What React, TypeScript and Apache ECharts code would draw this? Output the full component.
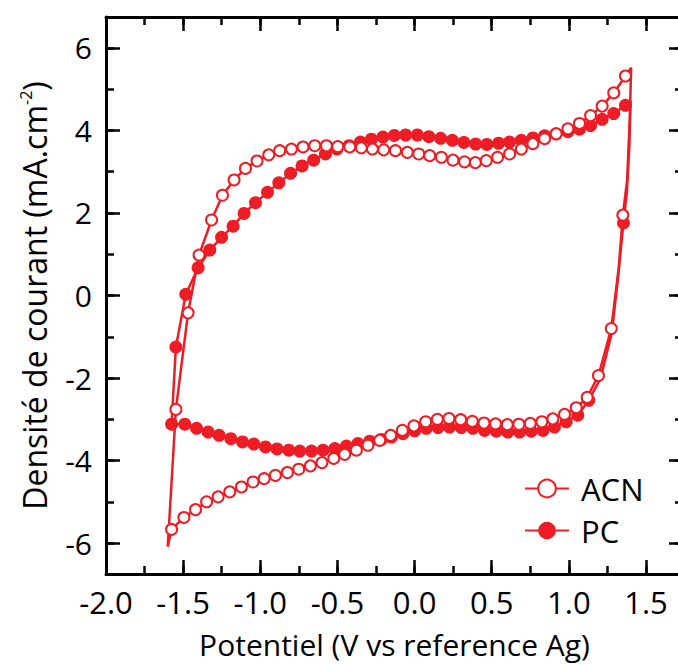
import React, { useEffect, useRef } from 'react';
import * as echarts from 'echarts';

// ---- Data (potential V vs Ag, current density mA.cm-2); mark = 1 -> symbol drawn ----
const acnV = [-1.600, -1.547, -1.468, -1.397, -1.316, -1.245, -1.170, -1.096, -1.021, -0.945, -0.874, -0.798, -0.723, -0.647, -0.571, -0.498, -0.420, -0.345, -0.273, -0.200, -0.124, -0.047, 0.027, 0.098, 0.174, 0.249, 0.324, 0.394, 0.465, 0.538, 0.616, 0.692, 0.767, 0.843, 0.918, 0.994, 1.069, 1.141, 1.216, 1.291, 1.367, 1.404, 1.395, 1.378, 1.350, 1.324, 1.275, 1.231, 1.192, 1.119, 1.048, 0.972, 0.896, 0.825, 0.750, 0.676, 0.601, 0.525, 0.450, 0.374, 0.299, 0.223, 0.148, 0.072, -0.004, -0.079, -0.155, -0.226, -0.302, -0.377, -0.453, -0.524, -0.600, -0.675, -0.751, -0.824, -0.902, -0.975, -1.047, -1.122, -1.198, -1.273, -1.348, -1.420, -1.495, -1.575, -1.600];
const acnJ = [-6.09, -2.76, -0.42, 0.98, 1.83, 2.43, 2.80, 3.08, 3.26, 3.41, 3.51, 3.55, 3.60, 3.63, 3.63, 3.61, 3.60, 3.58, 3.55, 3.53, 3.51, 3.47, 3.43, 3.39, 3.35, 3.28, 3.24, 3.22, 3.27, 3.35, 3.43, 3.55, 3.68, 3.80, 3.92, 4.04, 4.17, 4.36, 4.59, 4.91, 5.32, 5.52, 4.30, 2.80, 1.95, 0.69, -0.80, -1.41, -1.94, -2.47, -2.72, -2.88, -2.99, -3.06, -3.10, -3.12, -3.13, -3.11, -3.09, -3.05, -3.01, -2.98, -3.00, -3.06, -3.16, -3.27, -3.39, -3.51, -3.63, -3.75, -3.85, -3.95, -4.05, -4.13, -4.21, -4.29, -4.36, -4.44, -4.52, -4.64, -4.76, -4.88, -5.00, -5.19, -5.38, -5.67, -6.09];
const acnMark = [0, 1, 1, 1, 1, 1, 1, 1, 1, 1, 1, 1, 1, 1, 1, 1, 1, 1, 1, 1, 1, 1, 1, 1, 1, 1, 1, 1, 1, 1, 1, 1, 1, 1, 1, 1, 1, 1, 1, 1, 1, 0, 0, 0, 1, 0, 1, 0, 1, 1, 1, 1, 1, 1, 1, 1, 1, 1, 1, 1, 1, 1, 1, 1, 1, 1, 1, 1, 1, 1, 1, 1, 1, 1, 1, 1, 1, 1, 1, 1, 1, 1, 1, 1, 1, 1, 0];

const pcV = [-1.575, -1.547, -1.483, -1.403, -1.327, -1.251, -1.176, -1.105, -1.031, -0.953, -0.880, -0.804, -0.729, -0.654, -0.578, -0.503, -0.425, -0.351, -0.280, -0.205, -0.131, -0.058, 0.018, 0.093, 0.169, 0.245, 0.320, 0.396, 0.469, 0.545, 0.616, 0.692, 0.767, 0.843, 0.918, 0.994, 1.069, 1.141, 1.216, 1.291, 1.367, 1.400, 1.392, 1.376, 1.354, 1.322, 1.279, 1.236, 1.204, 1.129, 1.058, 0.983, 0.907, 0.832, 0.756, 0.681, 0.605, 0.530, 0.454, 0.378, 0.303, 0.227, 0.152, 0.076, 0.001, -0.075, -0.150, -0.215, -0.291, -0.367, -0.442, -0.517, -0.593, -0.668, -0.744, -0.815, -0.891, -0.966, -1.042, -1.115, -1.191, -1.267, -1.338, -1.413, -1.489, -1.575];
const pcJ = [-3.12, -1.25, 0.03, 0.67, 1.10, 1.41, 1.68, 1.99, 2.25, 2.50, 2.73, 2.96, 3.14, 3.28, 3.43, 3.55, 3.63, 3.72, 3.79, 3.84, 3.88, 3.89, 3.89, 3.85, 3.81, 3.76, 3.71, 3.67, 3.66, 3.69, 3.72, 3.76, 3.82, 3.87, 3.92, 3.97, 4.03, 4.12, 4.27, 4.41, 4.61, 4.72, 3.60, 2.50, 1.76, 0.55, -0.90, -1.55, -2.02, -2.54, -2.90, -3.06, -3.19, -3.27, -3.29, -3.31, -3.31, -3.29, -3.27, -3.22, -3.20, -3.19, -3.20, -3.22, -3.28, -3.35, -3.43, -3.49, -3.53, -3.59, -3.65, -3.71, -3.75, -3.77, -3.77, -3.75, -3.72, -3.67, -3.60, -3.55, -3.47, -3.39, -3.31, -3.22, -3.12, -3.12];
const pcMark = [1, 1, 1, 1, 1, 1, 1, 1, 1, 1, 1, 1, 1, 1, 1, 1, 1, 1, 1, 1, 1, 1, 1, 1, 1, 1, 1, 1, 1, 1, 1, 1, 1, 1, 1, 1, 1, 1, 1, 1, 1, 0, 0, 0, 1, 0, 0, 0, 0, 1, 1, 1, 1, 1, 1, 1, 1, 1, 1, 1, 1, 1, 1, 1, 1, 1, 1, 1, 1, 1, 1, 1, 1, 1, 1, 1, 1, 1, 1, 1, 1, 1, 1, 1, 1, 0];

const seriesNames = ['ACN', 'PC'];
const xTickLabels = ['-2.0', '-1.5', '-1.0', '-0.5', '0.0', '0.5', '1.0', '1.5'];
const yTickLabels = ['-6', '-4', '-2', '0', '2', '4', '6'];
const xTitle = 'Potentiel (V vs reference Ag)';
const yTitleMain = 'Densité de courant (mA.cm';
const yTitleSup = '-2';

const X_MIN = -2;
const X_MAX = 1.74;
const X_STEP = 0.5;
const X_MINOR = 0.25;
const Y_HALF = 6.75;

const RED = '#ee1c24';
const FONT = "'Open Sans', sans-serif";

function buildData(v: number[], j: number[], m: number[]) {
  return v.map((x, i) => (m[i] ? [x, j[i]] : { value: [x, j[i]], symbol: 'none' }));
}

function xLabel(v: number) {
  const k = Math.round((v - X_MIN) / X_STEP);
  if (Math.abs((v - X_MIN) / X_STEP - k) > 1e-6) return '';
  return xTickLabels[k] ?? '';
}
function yLabel(v: number) {
  const idx = yTickLabels.findIndex((t) => Math.abs(parseFloat(t) - v) < 1e-6);
  return idx >= 0 ? yTickLabels[idx] : '';
}

const lineStyle = { color: '#000', width: 3 };
const majorTick = { show: true, inside: true, length: 14, lineStyle: { color: '#000', width: 2.5 } };
const minorTick = { show: true, inside: true, length: 8, lineStyle: { color: '#000', width: 2.5 } };

function xAx(grid: number, pos: string, interval: number, major: boolean, withLabels: boolean) {
  return {
    type: 'value', gridIndex: grid, position: pos, min: X_MIN, max: X_MAX, interval,
    axisLine: { show: major, onZero: false, lineStyle },
    axisTick: major ? majorTick : minorTick,
    axisLabel: withLabels
      ? { show: true, formatter: xLabel, margin: 12, fontSize: 31, color: '#000', fontFamily: FONT, showMaxLabel: false }
      : { show: false },
    splitLine: { show: false },
    ...(withLabels
      ? { name: xTitle, nameLocation: 'middle', nameGap: 55, nameTextStyle: { fontSize: 30, color: '#000', fontFamily: FONT } }
      : {}),
  };
}
function yAx(grid: number, pos: string, split: number, major: boolean, withLabels: boolean) {
  return {
    type: 'value', gridIndex: grid, position: pos, min: -Y_HALF, max: Y_HALF, splitNumber: split,
    axisLine: { show: major, onZero: false, lineStyle },
    axisTick: major ? majorTick : minorTick,
    axisLabel: withLabels
      ? { show: true, formatter: yLabel, margin: 14, fontSize: 30, color: '#000', fontFamily: FONT, showMinLabel: false, showMaxLabel: false }
      : { show: false },
    splitLine: { show: false },
    ...(withLabels
      ? {
          name: `{a|${yTitleMain}}{s|${yTitleSup}}{a|)}`,
          nameLocation: 'middle',
          nameGap: 56,
          nameTextStyle: {
            color: '#000',
            fontFamily: FONT,
            fontSize: 32,
            rich: {
              a: { fontSize: 32, color: '#000', fontFamily: FONT },
              s: { fontSize: 16, color: '#000', fontFamily: FONT, verticalAlign: 'top' },
            },
          },
        }
      : {}),
  };
}

const gridBox = { left: 106, top: 17, right: -5, bottom: 91, outerBoundsMode: 'none', containLabel: false };

export default function App() {
  const ref = useRef<HTMLDivElement>(null);
  useEffect(() => {
    if (!ref.current) return;
    const chart = echarts.init(ref.current, null, { renderer: 'svg' });
    const common = {
      type: 'line',
      xAxisIndex: 0,
      yAxisIndex: 0,
      symbol: 'circle',
      lineStyle: { color: RED, width: 2.5 },
      emphasis: { disabled: true },
      silent: true,
      animation: false,
    };
    chart.setOption({
      animation: false,
      backgroundColor: '#fff',
      textStyle: { fontFamily: FONT },
      grid: [gridBox, gridBox],
      xAxis: [
        xAx(0, 'bottom', X_STEP, true, true),
        xAx(0, 'top', X_STEP, true, false),
        xAx(1, 'bottom', X_MINOR, false, false),
        xAx(1, 'top', X_MINOR, false, false),
      ],
      yAxis: [
        yAx(0, 'left', 7, true, true),
        yAx(0, 'right', 7, true, false),
        yAx(1, 'left', 14, false, false),
        yAx(1, 'right', 14, false, false),
      ],
      legend: {
        data: seriesNames,
        orient: 'vertical',
        left: 524,
        top: 473,
        itemWidth: 44,
        itemHeight: 22,
        itemGap: 11,
        padding: 0,
        selectedMode: false,
        textStyle: { fontSize: 31, color: '#000', fontFamily: FONT, padding: [0, 0, 0, 7] },
      },
      series: [
        {
          ...common,
          name: seriesNames[1],
          symbolSize: 13,
          itemStyle: { color: RED, borderColor: RED, borderWidth: 0 },
          data: buildData(pcV, pcJ, pcMark),
          z: 2,
        },
        {
          ...common,
          name: seriesNames[0],
          symbolSize: 11,
          itemStyle: { color: '#fff', borderColor: RED, borderWidth: 2 },
          data: buildData(acnV, acnJ, acnMark),
          z: 3,
        },
      ],
    });
    return () => chart.dispose();
  }, []);
  return <div ref={ref} style={{ position: 'absolute', left: 0, top: 0, width: 678, height: 665 }} />;
}
